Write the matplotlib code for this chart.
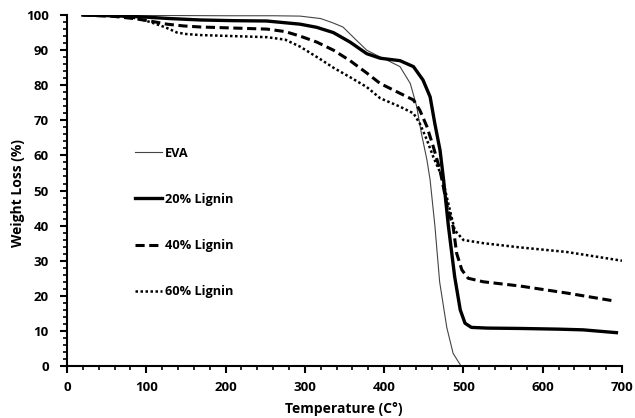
import matplotlib.pyplot as plt
from matplotlib.ticker import MultipleLocator

plt.rcParams['font.family'] = ['Open Sans', 'DejaVu Sans']
plt.rcParams['font.weight'] = 'bold'

# EVA
t_eva = [20, 100, 200, 260, 294, 320, 335, 348, 362, 378, 391, 405, 420, 433, 441, 447, 454, 458, 464, 470, 479, 487, 497]
w_eva = [100, 99.9, 99.8, 99.8, 99.7, 99.0, 97.8, 96.6, 93.5, 90, 88.5, 87.0, 85.3, 80.5, 74, 66.3, 58.7, 53, 40, 24, 11, 3.6, 0]

# 20% Lignin
t_20 = [20, 60, 92, 130, 168, 210, 252, 294, 315, 336, 357, 378, 395, 420, 437, 449, 458, 464, 470.5, 475, 481, 489,
        496, 502, 510, 530, 571, 620, 651, 693]
w_20 = [100, 99.8, 99.5, 99.0, 98.6, 98.4, 98.3, 97.4, 96.5, 95, 92.3, 89, 87.7, 87.0, 85.3, 81.5, 76.7, 69, 61.5, 53, 40, 25.4,
        16, 12.2, 11, 10.8, 10.7, 10.5, 10.3, 9.5]

# 40% Lignin
t_40 = [20, 60, 84, 105, 126, 147, 168, 210, 252, 275, 294, 315, 336, 357, 378, 395, 420, 437, 445, 454, 462, 470.5, 480,
        487, 491.5, 498, 506, 525, 571, 630, 691]
w_40 = [100, 99.6, 99, 98.3, 97.4, 96.9, 96.6, 96.3, 96, 95.3, 94, 92.3, 90, 87, 83.5, 80.5, 77.7, 75.8, 72.9, 68.2, 62.5, 55.8, 45,
        39.7, 32.1, 27.4, 25, 24, 22.8, 20.8, 18.5]

# 60% Lignin
t_60 = [20, 50, 75, 90, 105, 118, 126, 139, 150, 168, 210, 252, 275, 294, 319, 336, 357, 378, 395, 420, 437, 445, 454, 462,
        473, 483, 489, 500, 525, 571, 630, 700]
w_60 = [100, 99.8, 99.5, 99, 98, 97, 96.3, 95, 94.6, 94.3, 94, 93.7, 93, 91, 87.5, 85, 82.3, 79.5, 76.3, 73.9, 72, 69.1, 64.4, 59.6,
        53.9, 44.4, 38.7, 35.9, 35, 33.8, 32.5, 30]

fig = plt.figure(figsize=(6.35, 4.18), dpi=100)
ax = fig.add_axes([0.1055, 0.1244, 0.874, 0.8396])

ax.plot(t_eva, w_eva, color='#444444', lw=0.8, label='EVA')
ax.plot(t_20, w_20, color='black', lw=2.4, label='20% Lignin')
ax.plot(t_40, w_40, color='black', lw=2.2, ls=(0, (3, 1.5)), label='40% Lignin')
ax.plot(t_60, w_60, color='black', lw=1.8, ls=(0, (1, 1)), label='60% Lignin')

ax.set_xlim(0, 700)
ax.set_ylim(0, 100)
ax.xaxis.set_major_locator(MultipleLocator(100))
ax.xaxis.set_minor_locator(MultipleLocator(20))
ax.yaxis.set_major_locator(MultipleLocator(10))
ax.yaxis.set_minor_locator(MultipleLocator(2))
ax.tick_params(which='major', length=5, width=1.5, labelsize=9.5, direction='out', pad=6)
ax.tick_params(axis='y', which='major', pad=8)
ax.tick_params(which='minor', length=3, width=1.2, direction='out')
for s in ['top', 'right']:
    ax.spines[s].set_visible(False)
for s in ['left', 'bottom']:
    ax.spines[s].set_linewidth(1.5)

ax.set_xlabel('Temperature (C°)', fontsize=10, fontweight='bold')
ax.set_ylabel('Weight Loss (%)', fontsize=10, fontweight='bold')
ax.xaxis.set_label_coords(0.498, -0.1026)
ax.yaxis.set_label_coords(-0.0757, 0.493)

ax.legend(loc='upper left', bbox_to_anchor=(0.122, 0.625), frameon=False,
          handlelength=2.1, handletextpad=0.25, labelspacing=2.6,
          borderpad=0, borderaxespad=0, prop={'size': 9.2, 'weight': 'bold'})

fig.savefig('out.png', dpi=100)
